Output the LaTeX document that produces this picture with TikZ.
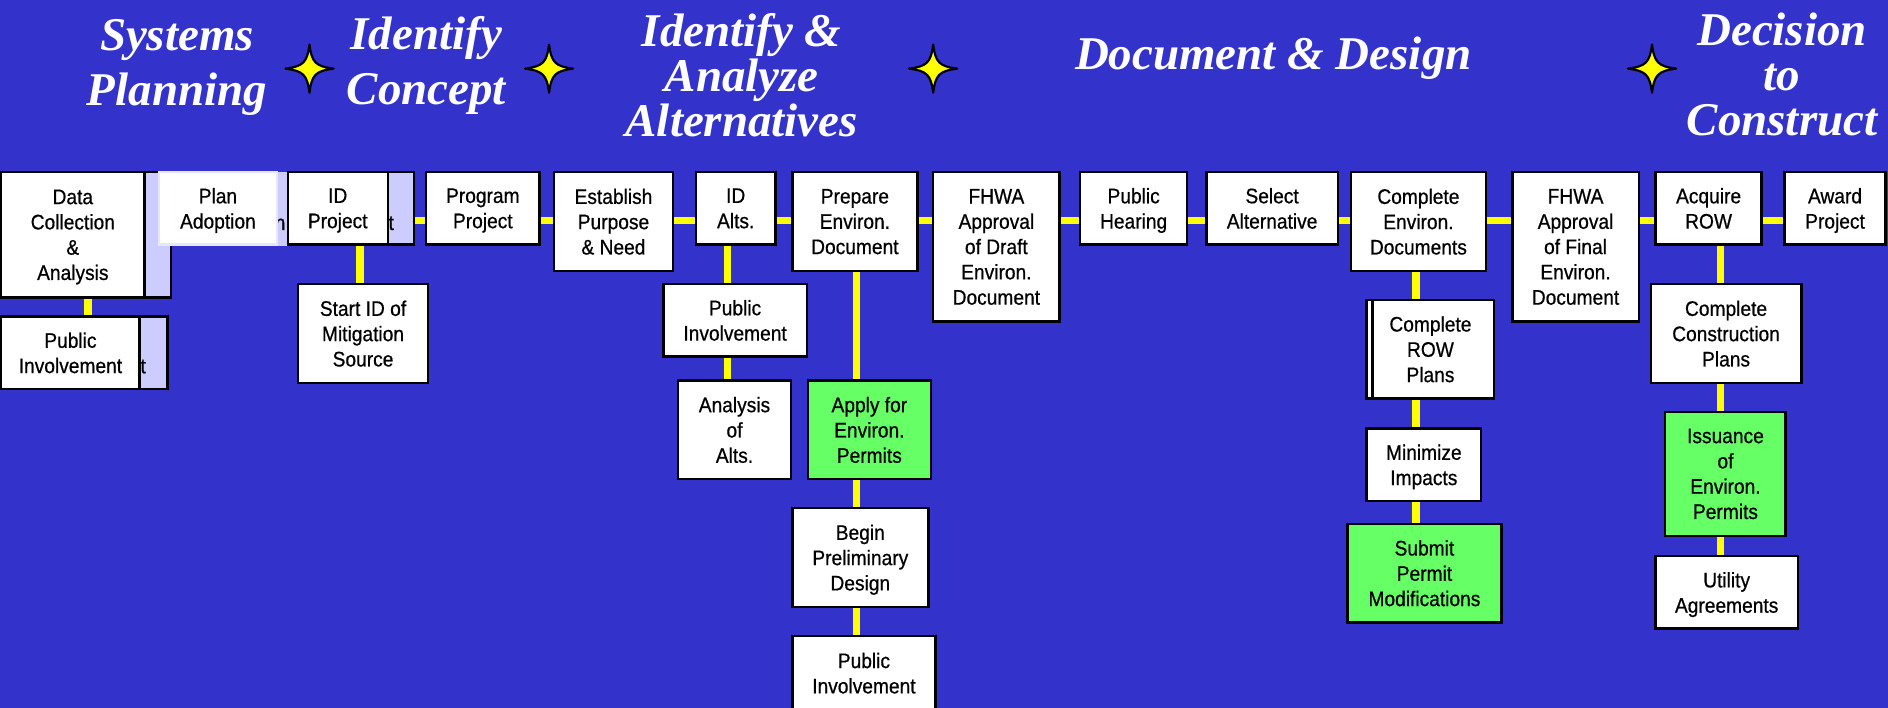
\documentclass[tikz,border=0pt]{standalone}
\usepackage{fontspec}
\usepackage{tikz}
\newfontfamily\boxfont{Liberation Sans}[FakeStretch=0.91, FakeBold=0.6]
\newfontfamily\headfont{Liberation Serif}
\definecolor{bg}{HTML}{3333CC}
\definecolor{rail}{HTML}{FFFF00}
\definecolor{permit}{HTML}{66FF66}
\definecolor{lilac}{HTML}{CCCCFF}
\definecolor{lilacedge}{HTML}{E6E6FF}
\tikzset{
  box/.style={draw=black, fill=white, line width=2pt, align=center, inner sep=0pt, text depth=0pt, text=black, font=\boxfont\fontsize{17.5}{21}\selectfont},
  greenbox/.style={box, fill=permit},
  ghost/.style={draw=black, fill=lilac, line width=2pt, inner sep=0pt},
  ghostlbl/.style={anchor=base west, inner sep=0pt, text=black, font=\boxfont\fontsize{17.5}{21}\selectfont},
  link/.style={draw=rail, line width=6pt},
  head/.style={text=white, align=center, anchor=base, inner sep=0pt, font=\headfont\bfseries\itshape\fontsize{39}{45.7}\selectfont},
  headtight/.style={head, font=\headfont\bfseries\itshape\fontsize{39}{37.3}\selectfont},
  starline/.style={draw=black, fill=rail, line width=1.8pt, line join=round},
  spark/.pic={\path[starline] (0,20) .. controls (2,5) and (5,2) .. (20,0) .. controls (5,-2) and (2,-5) .. (0,-20) .. controls (-2,-5) and (-5,-2) .. (-20,0) .. controls (-5,2) and (-2,5) .. (0,20) -- cycle;},
}

\begin{document}
\begin{tikzpicture}[x=1pt, y=-1pt]
  \useasboundingbox (0,0) rectangle (1568,588);
  \fill[bg] (0,0) rectangle (1568,588);

  \coordinate (ly) at (0,183);
  \coordinate (b1) at (73,0);
  \coordinate (b2) at (299,0);
  \coordinate (b3) at (604.5,0);
  \coordinate (b4) at (711,0);
  \coordinate (b5) at (1176,0);
  \coordinate (b6) at (1429,0);

  \node[head] (sysplan) at (147,87.5) {Systems\\Planning};
  \node[head] (idconcept) at (354,87) {Identify\\Concept};
  \node[headtight] (idanalyze) at (616,113.5) {Identify \&\\Analyze\\Alternatives};
  \node[head] (docdesign) at (1057.5,57.5) {Document \& Design};
  \node[headtight] (decide) at (1480,112.5) {Decision\\to\\Construct};
  \foreach \sx in {257,456,775,1372}
    \pic at (\sx,57) {spark};

  \node[ghost, minimum width=42, minimum height=104] (dataghost) at (121,195) {};
  \node[box, minimum width=119, minimum height=104] (data) at (60.5,195) {Data\\Collection\\\&\\Analysis};
  \node[ghost, draw=none, minimum width=108, minimum height=61] (planghost) at (186,173.5) {};
  \node[ghostlbl] (planghostn) at (228,191) {n};
  \node[box, draw=lilacedge, minimum width=98, minimum height=60] (plan) at (181,173) {Plan\\Adoption};
  \node[ghost, minimum width=44, minimum height=60] (idghost) at (322,173) {};
  \node[ghostlbl] (idghostt) at (322.5,191) {t};
  \node[box, minimum width=83, minimum height=60] (idproj) at (280.5,173) {ID\\Project};
  \node[box, minimum width=94, minimum height=60] (program) at (401,173) {Program\\Project};
  \node[box, minimum width=99, minimum height=82] (purpose) at (509.5,184) {Establish\\Purpose\\\& Need};
  \node[box, minimum width=66, minimum height=60] (idalts) at (611,173) {ID\\Alts.};
  \node[box, minimum width=104, minimum height=82] (prepenv) at (710,184) {Prepare\\Environ.\\Document};
  \node[box, minimum width=105, minimum height=124] (fhwadraft) at (827.5,205) {FHWA\\Approval\\of Draft\\Environ.\\Document};
  \node[box, minimum width=89, minimum height=60] (hearing) at (941.5,173) {Public\\Hearing};
  \node[box, minimum width=109, minimum height=60] (select) at (1056.5,173) {Select\\Alternative};
  \node[box, minimum width=112, minimum height=82] (complenv) at (1178,184) {Complete\\Environ.\\Documents};
  \node[box, minimum width=105, minimum height=124] (fhwafinal) at (1308.5,205) {FHWA\\Approval\\of Final\\Environ.\\Document};
  \node[box, minimum width=88, minimum height=60] (acqrow) at (1419,173) {Acquire\\ROW};
  \node[box, minimum width=84, minimum height=60] (award) at (1524,173) {Award\\Project};

  \node[ghost, minimum width=49, minimum height=60] (pubghost) at (114.5,293) {};
  \node[ghostlbl] (pubghostt) at (116.5,310) {t};
  \node[box, minimum width=115, minimum height=60] (pubinv) at (58.5,293) {Public\\Involvement};
  \node[box, minimum width=108, minimum height=82] (startid) at (301.5,277) {Start ID of\\Mitigation\\Source};
  \node[box, minimum width=119, minimum height=60] (pubinvalt) at (610.5,266) {Public\\Involvement};
  \node[box, minimum width=94, minimum height=82] (analts) at (610,357) {Analysis\\of\\Alts.};
  \node[greenbox, minimum width=102, minimum height=82] (apply) at (722,357) {Apply for\\Environ.\\Permits};
  \node[box, minimum width=113, minimum height=82] (begin) at (714.5,463) {Begin\\Preliminary\\Design};
  \node[box, minimum width=119, minimum height=62] (pubinvdes) at (717.5,559) {Public\\Involvement};
  \node[box, minimum width=106, minimum height=82] (rowplans) at (1188,290) {Complete\\ROW\\Plans};
  \node[box, minimum width=95, minimum height=60] (minimize) at (1182.5,386) {Minimize\\Impacts};
  \node[greenbox, minimum width=128, minimum height=82] (submit) at (1183,476) {Submit\\Permit\\Modifications};
  \node[box, minimum width=125, minimum height=82] (constr) at (1433.5,277) {Complete\\Construction\\Plans};
  \node[greenbox, minimum width=100, minimum height=103] (issue) at (1433,393.5) {Issuance\\of\\Environ.\\Permits};
  \node[box, minimum width=118, minimum height=60] (utility) at (1434,492) {Utility\\Agreements};

  \draw[line width=2pt] ([xshift=6]rowplans.north west) -- ([xshift=6]rowplans.south west); % second edge

  \foreach \a/\b in {idghost/program, program/purpose, purpose/idalts, idalts/prepenv, prepenv/fhwadraft, fhwadraft/hearing, hearing/select, select/complenv, complenv/fhwafinal, fhwafinal/acqrow, acqrow/award}
    \draw[link] (\a.east |- ly) -- (\b.west |- ly);
  \foreach \a/\b/\c in {data/pubinv/b1, idproj/startid/b2, idalts/pubinvalt/b3, pubinvalt/analts/b3, prepenv/apply/b4, apply/begin/b4, begin/pubinvdes/b4, complenv/rowplans/b5, rowplans/minimize/b5, minimize/submit/b5, acqrow/constr/b6, constr/issue/b6, issue/utility/b6}
    \draw[link] (\a.south -| \c) -- (\b.north -| \c);
\end{tikzpicture}
\end{document}
